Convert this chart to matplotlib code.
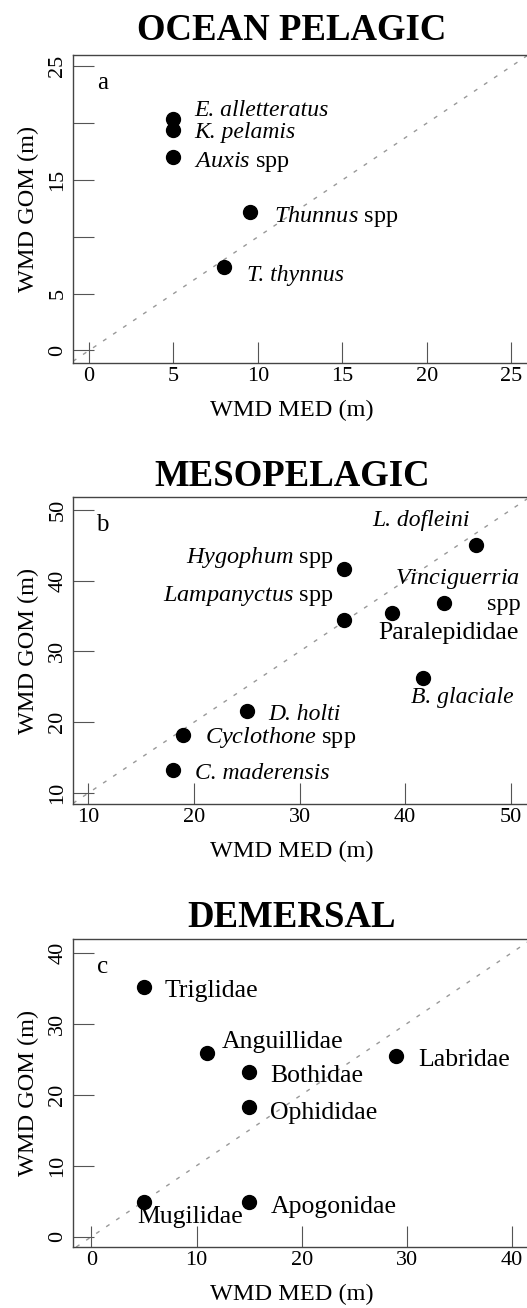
import matplotlib.pyplot as plt

plt.rcParams['font.family'] = ['Liberation Serif', 'DejaVu Serif']
plt.rcParams['mathtext.fontset'] = 'custom'
plt.rcParams['mathtext.rm'] = 'Liberation Serif'
plt.rcParams['mathtext.it'] = 'Liberation Serif:italic'

# ocean pelagic species
pel_names = ['E. alletteratus', 'K. pelamis', r'$\mathit{Auxis}$ spp',
             r'$\mathit{Thunnus}$ spp', 'T. thynnus']
pel_med = [5, 5, 5, 9.5, 8]
pel_gom = [20.4, 19.4, 17.0, 12.2, 7.3]

# mesopelagic species
meso_names = ['L. dofleini', r'$\mathit{Hygophum}$ spp', r'$\mathit{Lampanyctus}$ spp',
              'Paralepididae', '$\\mathit{Vinciguerria}$\nspp', 'B. glaciale',
              'D. holti', r'$\mathit{Cyclothone}$ spp', 'C. maderensis']
meso_med = [46.7, 34.2, 34.2, 38.7, 43.7, 41.7, 25.0, 19.0, 18.0]
meso_gom = [45.0, 41.6, 34.5, 35.4, 36.8, 26.2, 21.6, 18.2, 13.2]

# demersal families
dem_names = ['Triglidae', 'Anguillidae', 'Bothidae', 'Ophididae', 'Labridae',
             'Mugilidae', 'Apogonidae']
dem_med = [5, 11, 15, 15, 29, 5, 15]
dem_gom = [35.2, 25.9, 23.2, 18.3, 25.4, 4.9, 4.9]

# label placement: pixel offset from the point, horizontal alignment, italic
pel_lab = [(21, 8, 'left', True), (21, -3, 'left', True), (21, -5, 'left', False),
           (24, -5, 'left', False), (23, -8, 'left', True)]
meso_lab = [(-6, 25, 'right', True), (-11, 12, 'right', False), (-11, 24, 'right', False),
            (57, -20, 'center', False), (76, 12, 'right', False), (39, -19, 'center', True),
            (21, -4, 'left', True), (22, -3, 'left', False), (22, -3, 'left', True)]
dem_lab = [(21, -4, 'left', False), (15, 11, 'left', False), (21, -4, 'left', False),
           (21, -6, 'left', False), (22, -4, 'left', False), (46, -15, 'center', False),
           (22, -5, 'left', False)]

fig = plt.figure(figsize=(5.27, 13.08), dpi=100)

panels = [
    ('OCEAN PELAGIC', 'a', pel_names, pel_med, pel_gom, pel_lab,
     (-0.95, 26.1), (-1.1, 26.0), [0, 5, 10, 15, 20, 25], ['0', '5', '', '15', '', '25'],
     [0.1385, 0.7225, 0.867, 0.2355], 0.9694),
    ('MESOPELAGIC', 'b', meso_names, meso_med, meso_gom, meso_lab,
     (8.55, 51.8), (8.45, 51.8), [10, 20, 30, 40, 50], ['10', '20', '30', '40', '50'],
     [0.1385, 0.3853, 0.867, 0.2347], 0.6287),
    ('DEMERSAL', 'c', dem_names, dem_med, dem_gom, dem_lab,
     (-1.75, 41.7), (-1.45, 41.9), [0, 10, 20, 30, 40], ['0', '10', '20', '30', '40'],
     [0.1385, 0.0466, 0.867, 0.2355], 0.2915),
]

for title, letter, names, med, gom, labs, xlim, ylim, ticks, yticklabels, rect, ty in panels:
    ax = fig.add_axes(rect)
    ax.set_xlim(*xlim)
    ax.set_ylim(*ylim)

    # 1:1 reference line
    ax.axline((0, 0), slope=1, color='#999999', lw=1, dashes=(2.9, 5.8), zorder=1)
    ax.plot(med, gom, 'o', color='black', markersize=10, zorder=3)

    for name, x, y, (dx, dy, ha, ital) in zip(names, med, gom, labs):
        # roman names run wider than italic ones
        if ital:
            size = 17
        elif '$' in name:
            size = 17.5
        else:
            size = 18.5
        ax.annotate(name, (x, y), xytext=(dx, dy), textcoords='offset pixels',
                    ha=ha, va='center', fontsize=size, multialignment='right',
                    fontstyle='italic' if ital else 'normal', zorder=4)

    ax.text(0.065, 0.909, letter, transform=ax.transAxes, fontsize=18,
            ha='center', va='center')

    ax.set_xticks(ticks)
    ax.set_yticks(ticks)
    ax.set_yticklabels(yticklabels, rotation=90, va='center')
    ax.tick_params(direction='in', length=15, width=0.8, color='#555555',
                   labelsize=16, pad=4)
    ax.tick_params(axis='x', pad=3)
    for sp in ax.spines.values():
        sp.set_color('#444444')
        sp.set_linewidth(1)

    ax.set_xlabel('WMD MED (m)', fontsize=17.5)
    ax.set_ylabel('WMD GOM (m)', fontsize=17.5)
    ax.xaxis.set_label_coords(0.5 - 9.5 / 457, -0.155)
    ax.yaxis.set_label_coords(-0.098, 0.5)
    ax.xaxis.label.set_va('center')
    ax.yaxis.label.set_va('center')

    fig.text(0.554, ty, title, fontsize=26.5, fontweight='bold',
             ha='center', va='baseline')

fig.savefig('out.png', dpi=100)
